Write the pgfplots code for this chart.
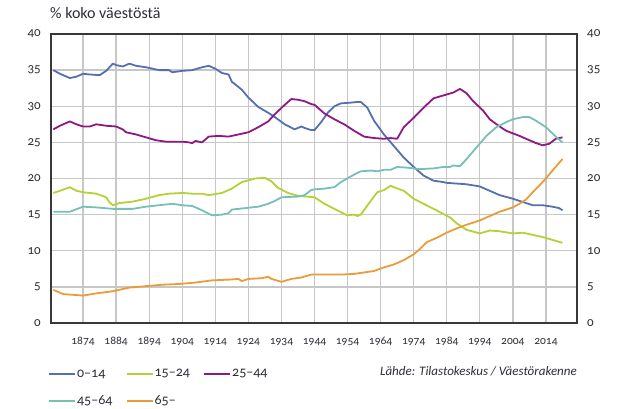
\documentclass[border=0pt]{standalone}
\usepackage{fontspec}
\setmainfont{Carlito}[Numbers=OldStyle]
\usepackage{pgfplots}
\usepackage{pgfplotstable}
\pgfplotsset{compat=1.18}

\definecolor{cblue}{RGB}{84,112,178}
\definecolor{cgreen}{RGB}{178,210,53}
\definecolor{cpurple}{RGB}{142,24,132}
\definecolor{cteal}{RGB}{118,192,184}
\definecolor{corange}{RGB}{235,156,58}
\definecolor{ctext}{RGB}{45,45,55}

\pgfplotstableread{
year v
1865 35.0
1867 34.5
1870 33.9
1872 34.1
1874 34.5
1876 34.4
1879 34.3
1881 34.9
1883 35.9
1884 35.7
1886 35.5
1888 35.9
1890 35.6
1893 35.4
1897 35.0
1900 35.0
1901 34.7
1904 34.9
1907 35.0
1910 35.4
1912 35.6
1914 35.2
1916 34.6
1918 34.4
1919 33.4
1922 32.3
1924 31.2
1927 29.9
1930 29.1
1932 28.5
1935 27.5
1938 26.8
1940 27.2
1941 27.0
1943 26.7
1944 26.7
1946 27.8
1948 29.1
1950 30.0
1952 30.4
1955 30.5
1957 30.6
1958 30.6
1960 29.8
1962 28.0
1965 26.1
1968 24.5
1971 22.9
1974 21.6
1977 20.4
1980 19.7
1983 19.5
1984 19.4
1987 19.3
1990 19.2
1994 18.9
1997 18.3
2000 17.7
2004 17.2
2008 16.6
2010 16.3
2013 16.3
2016 16.1
2018 15.9
2019 15.6
}\tblA

\pgfplotstableread{
year v
1865 18.0
1867 18.3
1870 18.8
1872 18.3
1874 18.1
1878 17.9
1881 17.4
1882 16.7
1883 16.3
1885 16.6
1889 16.8
1893 17.2
1897 17.7
1900 17.9
1904 18.0
1907 17.9
1910 17.9
1912 17.7
1916 18.0
1919 18.6
1922 19.5
1926 20.0
1929 20.1
1931 19.6
1933 18.7
1936 18.0
1939 17.6
1944 17.4
1947 16.5
1950 15.8
1953 15.1
1954 14.9
1956 15.0
1957 14.8
1958 15.0
1961 16.9
1963 18.1
1965 18.4
1967 19.0
1968 18.8
1971 18.3
1974 17.2
1977 16.5
1980 15.8
1983 15.1
1985 14.6
1987 13.8
1990 12.9
1994 12.4
1997 12.8
2000 12.7
2004 12.4
2007 12.5
2010 12.2
2013 11.9
2016 11.5
2019 11.1
}\tblB

\pgfplotstableread{
year v
1865 26.8
1867 27.3
1870 27.9
1872 27.5
1874 27.2
1876 27.2
1878 27.5
1881 27.3
1884 27.2
1886 26.8
1887 26.4
1890 26.1
1893 25.7
1896 25.3
1899 25.1
1904 25.1
1906 25.0
1907 24.9
1908 25.2
1910 25.0
1912 25.8
1915 25.9
1918 25.8
1921 26.1
1924 26.4
1927 27.1
1930 27.9
1932 28.9
1935 30.2
1937 31.0
1939 30.9
1941 30.7
1943 30.3
1944 30.2
1947 29.0
1950 28.2
1953 27.5
1956 26.6
1959 25.8
1962 25.6
1965 25.5
1967 25.6
1969 25.5
1971 27.1
1974 28.4
1977 29.8
1980 31.1
1983 31.5
1986 31.9
1988 32.4
1990 31.8
1992 30.7
1995 29.4
1997 28.2
2000 27.2
2002 26.6
2006 25.9
2009 25.3
2011 24.9
2013 24.6
2015 24.8
2017 25.5
2019 25.7
}\tblC

\pgfplotstableread{
year v
1865 15.4
1870 15.4
1874 16.1
1878 16.0
1883 15.8
1889 15.8
1893 16.1
1897 16.3
1901 16.5
1904 16.3
1907 16.2
1910 15.6
1913 14.9
1916 15.0
1918 15.2
1919 15.7
1923 15.9
1927 16.1
1930 16.5
1932 16.9
1934 17.4
1939 17.5
1941 17.7
1943 18.4
1944 18.5
1947 18.6
1950 18.8
1952 19.5
1955 20.3
1958 21.0
1961 21.1
1963 21.0
1965 21.2
1967 21.2
1969 21.6
1972 21.5
1976 21.3
1980 21.4
1983 21.6
1985 21.6
1986 21.8
1988 21.7
1990 22.7
1993 24.3
1996 25.9
1999 27.1
2002 27.8
2004 28.2
2006 28.4
2007 28.5
2009 28.5
2011 28.0
2014 27.1
2017 25.8
2019 25.0
}\tblD

\pgfplotstableread{
year v
1865 4.6
1868 4.0
1871 3.9
1874 3.8
1878 4.1
1883 4.4
1888 4.9
1893 5.1
1898 5.3
1903 5.4
1908 5.6
1913 5.9
1918 6.0
1921 6.1
1922 5.8
1924 6.1
1928 6.2
1930 6.4
1931 6.1
1934 5.7
1937 6.1
1940 6.3
1943 6.7
1947 6.7
1952 6.7
1956 6.8
1959 7.0
1962 7.2
1965 7.7
1968 8.1
1971 8.7
1974 9.5
1976 10.3
1978 11.2
1981 11.8
1984 12.5
1987 13.1
1990 13.6
1994 14.2
1997 14.8
2000 15.4
2004 16.0
2006 16.5
2008 17.1
2010 18.1
2013 19.5
2016 21.1
2019 22.7
}\tblE

\begin{document}
\begin{tikzpicture}[x=1pt,y=1pt]
\path[use as bounding box] (0,0) rectangle (620,408);
\begin{axis}[
  at={(51pt,85pt)}, anchor=south west,
  scale only axis, width=526pt, height=289pt,
  xmin=1864.3, xmax=2023.4, ymin=0, ymax=40,
  xtick={1874,1884,...,2014},
  ytick={0,5,...,40},
  grid=major,
  major grid style={draw=black!22, line width=1.3pt},
  axis line style={draw=black!78, line width=1.6pt},
  major tick length=0pt,
  /pgf/number format/assume math mode=true,
  /pgf/number format/set thousands separator={},
  xticklabel style={font=\fontsize{11.5}{12}\selectfont, text=ctext, anchor=base, yshift=-21pt, inner sep=0pt},
  yticklabel style={font=\fontsize{13}{14}\selectfont, text=ctext, anchor=east, xshift=-10pt, inner sep=0pt},
  legend columns=3,
  legend style={at={(axis description cs:-0.012,-0.15)}, anchor=north west, draw=none, fill=none,
    font=\fontsize{14}{15}\selectfont, text=ctext,
    /tikz/every even column/.append style={column sep=12pt},
    row sep=15pt, nodes={inner sep=1pt, anchor=west}},
  legend image code/.code={\draw[#1, line width=2.2pt] (0pt,0pt) -- (26pt,0pt);},
  every axis plot/.append style={line width=1.8pt, line join=round, no markers},
]
\addplot[cblue] table[x=year,y=v]{\tblA};
\addlegendentry{0–14}
\addplot[cgreen] table[x=year,y=v]{\tblB};
\addlegendentry{15–24}
\addplot[cpurple] table[x=year,y=v]{\tblC};
\addlegendentry{25–44}
\addplot[cteal] table[x=year,y=v]{\tblD};
\addlegendentry{45–64}
\addplot[corange] table[x=year,y=v]{\tblE};
\addlegendentry{65–}
\end{axis}
\begin{axis}[
  at={(51pt,85pt)}, anchor=south west,
  scale only axis, width=526pt, height=289pt,
  xmin=1864.3, xmax=2023.4, ymin=0, ymax=40,
  xtick=\empty, ytick={0,5,...,40},
  axis line style={draw=none},
  major tick length=0pt,
  yticklabel pos=right,
  /pgf/number format/assume math mode=true,
  yticklabel style={font=\fontsize{13}{14}\selectfont, text=ctext, anchor=west, xshift=10pt, inner sep=0pt},
]
\end{axis}
\node[anchor=base west, inner sep=0pt, text=ctext, font=\fontsize{16}{17}\selectfont] at (50,389) {\% koko väestöstä};
\node[anchor=base east, inner sep=0pt, text=ctext, font=\itshape\fontsize{13}{14}\selectfont] at (577,33) {Lähde: Tilastokeskus / Väestörakenne};
\end{tikzpicture}
\end{document}
